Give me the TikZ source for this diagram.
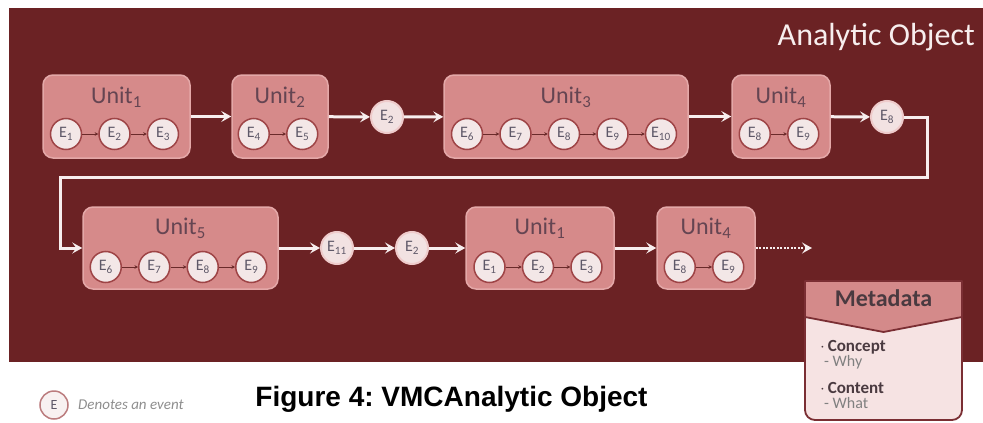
\documentclass[tikz,border=0pt]{standalone}
\usepackage{fontspec}
\setmainfont{Carlito}
\newfontfamily\capfont{Liberation Sans}
\usetikzlibrary{arrows.meta}
\definecolor{bgred}{HTML}{6B2224}
\definecolor{unitfill}{HTML}{D68A8A}
\definecolor{unitedge}{HTML}{E4A8A8}
\definecolor{evfill}{HTML}{F3E7E7}
\definecolor{evedge}{HTML}{9E4446}
\definecolor{titlecol}{HTML}{654552}
\definecolor{evtext}{HTML}{5E5868}
\definecolor{arrowwhite}{HTML}{F7EEEE}
\definecolor{smallarrow}{HTML}{6A2A2A}
\definecolor{metaedge}{HTML}{7A2E33}
\definecolor{metahead}{HTML}{D48A8A}
\definecolor{metabody}{HTML}{F6E3E3}
\definecolor{metatext}{HTML}{4A3A40}
\definecolor{legtext}{HTML}{8E8E8E}
\frenchspacing
\begin{document}
\begin{tikzpicture}[x=1pt,y=-1pt,
  unitbox/.style={draw=unitedge, fill=unitfill, line width=1.5pt, rounded corners=10pt,
    minimum height=83pt, inner sep=0pt},
  unittitle/.style={text=titlecol, font=\fontsize{24}{24}\selectfont, inner sep=0pt},
  ev/.style={circle, draw=evedge, fill=evfill, line width=1.5pt, minimum size=31pt,
    inner sep=0pt, text=evtext, font=\fontsize{16}{16}\selectfont},
  loneev/.style={ev, draw=unitedge!60!white, fill=evfill!95!unitfill, line width=2pt, minimum size=32pt},
  evarrow/.style={draw=smallarrow, line width=0.8pt, -{Stealth[length=3.5pt,width=3.5pt]}},
  bigarrow/.style={draw=arrowwhite, line width=3pt, -{Stealth[length=10pt,width=11pt,inset=4pt]}},
  metaitem/.style={anchor=west, inner sep=0pt, text=metatext, font=\bfseries\fontsize{17}{17}\selectfont},
  metasub/.style={anchor=west, inner sep=0pt, text=legtext!90!black, font=\fontsize{16}{16}\selectfont}
]
\useasboundingbox (0,0) rectangle (983,423);
\fill[white] (0,0) rectangle (983,423);
\fill[bgred] (9,8) rectangle (983,362);

\node[anchor=east, inner sep=0pt, text=arrowwhite, font=\fontsize{32}{32}\selectfont] (title) at (975,37) {Analytic Object};

% ---------- Row 1 ----------
\node[unitbox, minimum width=147pt] (U1) at (116.5,116.5) {};
\node[unittitle] (U1t) at (116.5,97) {Unit\textsubscript{1}};
\node[ev] (U1a) at (66,134) {E\textsubscript{1}};
\node[ev] (U1b) at (114.5,134) {E\textsubscript{2}};
\node[ev] (U1c) at (163,134) {E\textsubscript{3}};
\draw[evarrow] (U1a) -- (U1b);
\draw[evarrow] (U1b) -- (U1c);

\node[unitbox, minimum width=96pt] (U2) at (280,116.5) {};
\node[unittitle] (U2t) at (280,97) {Unit\textsubscript{2}};
\node[ev] (U2a) at (253.75,134) {E\textsubscript{4}};
\node[ev] (U2b) at (302.25,134) {E\textsubscript{5}};
\draw[evarrow] (U2a) -- (U2b);

\node[loneev] (L1) at (387,117) {E\textsubscript{2}};

\node[unitbox, minimum width=244pt] (U3) at (566,116.5) {};
\node[unittitle] (U3t) at (566,97) {Unit\textsubscript{3}};
\node[ev] (U3a) at (467,134) {E\textsubscript{6}};
\node[ev] (U3b) at (515.5,134) {E\textsubscript{7}};
\node[ev] (U3c) at (564,134) {E\textsubscript{8}};
\node[ev] (U3d) at (612.5,134) {E\textsubscript{9}};
\node[ev] (U3e) at (661,134) {E\textsubscript{10}};
\draw[evarrow] (U3a) -- (U3b);
\draw[evarrow] (U3b) -- (U3c);
\draw[evarrow] (U3c) -- (U3d);
\draw[evarrow] (U3d) -- (U3e);

\node[unitbox, minimum width=98pt] (U4) at (781,116.5) {};
\node[unittitle] (U4t) at (781,97) {Unit\textsubscript{4}};
\node[ev] (U4a) at (754.75,134) {E\textsubscript{8}};
\node[ev] (U4b) at (803.25,134) {E\textsubscript{9}};
\draw[evarrow] (U4a) -- (U4b);

\node[loneev] (L2) at (887,117) {E\textsubscript{8}};

\draw[bigarrow] (U1) -- (U2);
\draw[bigarrow] (U2) -- (L1);
\draw[bigarrow] (L1) -- (U3);
\draw[bigarrow] (U3) -- (U4);
\draw[bigarrow] (U4) -- (L2);

% ---------- Row 2 ----------
\node[unitbox, minimum width=195pt, minimum height=82pt] (U5) at (180.5,248) {};
\node[unittitle] (U5t) at (180.5,228) {Unit\textsubscript{5}};
\node[ev] (U5a) at (105.75,267) {E\textsubscript{6}};
\node[ev] (U5b) at (154.25,267) {E\textsubscript{7}};
\node[ev] (U5c) at (202.75,267) {E\textsubscript{8}};
\node[ev] (U5d) at (251.25,267) {E\textsubscript{9}};
\draw[evarrow] (U5a) -- (U5b);
\draw[evarrow] (U5b) -- (U5c);
\draw[evarrow] (U5c) -- (U5d);

\node[loneev] (L3) at (337,248) {E\textsubscript{11}};
\node[loneev] (L4) at (412,248) {E\textsubscript{2}};

\node[unitbox, minimum width=148pt, minimum height=82pt] (U6) at (540,248) {};
\node[unittitle] (U6t) at (540,228) {Unit\textsubscript{1}};
\node[ev] (U6a) at (489.5,267) {E\textsubscript{1}};
\node[ev] (U6b) at (538,267) {E\textsubscript{2}};
\node[ev] (U6c) at (586.5,267) {E\textsubscript{3}};
\draw[evarrow] (U6a) -- (U6b);
\draw[evarrow] (U6b) -- (U6c);

\node[unitbox, minimum width=98pt, minimum height=82pt] (U7) at (706,248) {};
\node[unittitle] (U7t) at (706,228) {Unit\textsubscript{4}};
\node[ev] (U7a) at (679.75,267) {E\textsubscript{8}};
\node[ev] (U7b) at (728.25,267) {E\textsubscript{9}};
\draw[evarrow] (U7a) -- (U7b);

\coordinate (c1) at (927,177);
\coordinate (c2) at (60,177);
\coordinate (cend) at (812,248);

\draw[bigarrow] (L2) -| (c1) -- (c2) |- (U5);
\draw[bigarrow] (U5) -- (L3);
\draw[bigarrow] (L3) -- (L4);
\draw[bigarrow] (L4) -- (U6);
\draw[bigarrow] (U6) -- (U7);
\draw[draw=arrowwhite, line width=2.5pt, dash pattern=on 2pt off 1.5pt,
  -{Stealth[length=10pt,width=11pt,inset=4pt]}] (U7) -- (cend);

% ---------- Metadata ----------
\draw[draw=metaedge, fill=metabody, line width=1.8pt, rounded corners=10pt]
  (805,281) rectangle (962,420);
\draw[draw=metaedge, fill=metahead, line width=1.8pt, line join=round]
  (805,281) -- (962,281) -- (962,317) -- (883.5,332) -- (805,317) -- cycle;
\node[inner sep=0pt, text=metatext, font=\bfseries\fontsize{24}{24}\selectfont] (meta) at (883.5,298) {Metadata};
\node[metaitem] (m1) at (820,347) {$\cdot$\,Concept};
\node[metasub] (m2) at (824,362) {- Why};
\node[metaitem] (m3) at (820,388) {$\cdot$\,Content};
\node[metasub] (m4) at (824,403) {- What};

% ---------- Legend and caption ----------
\node[circle, draw=evedge!70!white, fill=evfill!60!white, line width=1.5pt, minimum size=28pt,
  inner sep=0pt, text=evtext, font=\fontsize{14}{14}\selectfont] (leg) at (54,405) {E};
\node[anchor=west, inner sep=0pt, text=legtext, font=\itshape\fontsize{15}{15}\selectfont] (legt) at (78,405) {Denotes an event};
\node[inner sep=0pt, font=\capfont\bfseries\fontsize{28}{28}\selectfont] (cap) at (451.5,399) {Figure 4: VMCAnalytic Object};
\end{tikzpicture}
\end{document}
